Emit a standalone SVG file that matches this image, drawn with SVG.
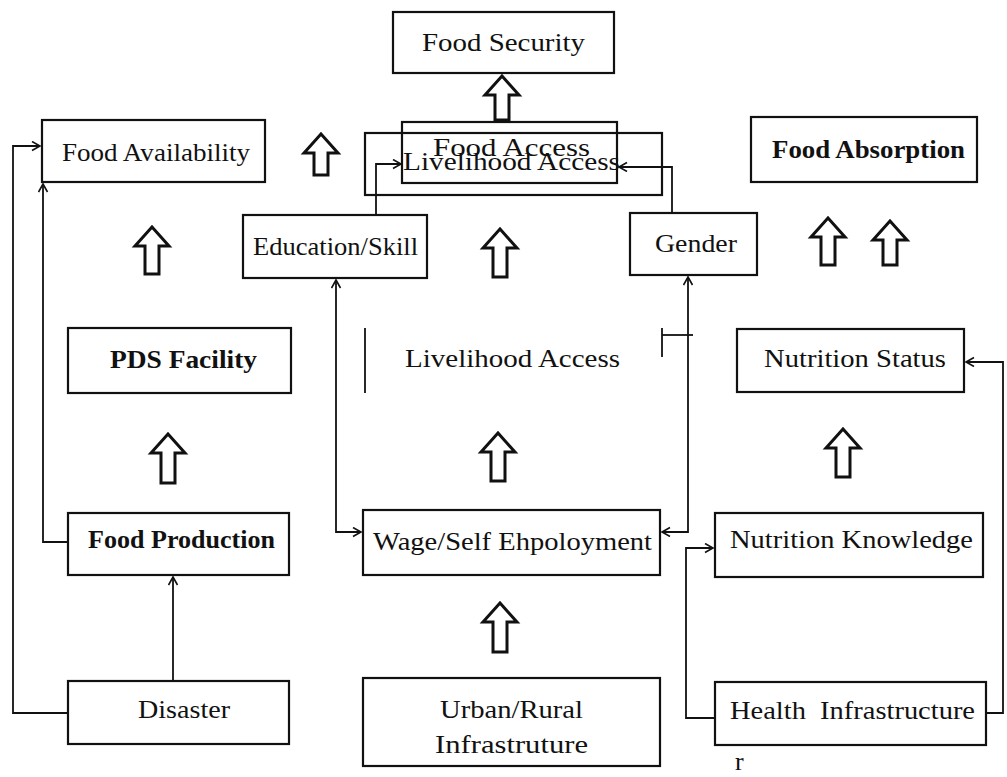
<svg xmlns="http://www.w3.org/2000/svg" width="1007" height="777" viewBox="0 0 1007 777">
<style>
.box{fill:none;stroke:#111;stroke-width:2.2}
.t{font-family:"Liberation Serif","Times New Roman",serif;font-size:26px;fill:#111;white-space:pre}
.b{font-weight:bold}
.c{fill:none;stroke:#111;stroke-width:1.8}
.ha{fill:#fff;stroke:#111;stroke-width:3;stroke-linejoin:miter}
</style>
<defs>
<marker id="ah" markerUnits="userSpaceOnUse" markerWidth="12" markerHeight="12" refX="9" refY="5" orient="auto-start-reverse">
<path d="M1,0.5 L9,5 L1,9.5" fill="none" stroke="#111" stroke-width="1.6"/>
</marker>
</defs>
<rect width="1007" height="777" fill="#fff"/>

<g id="food-security"><rect class="box" x="393" y="12" width="221" height="61"/><text class="t" x="422" y="51" textLength="163" lengthAdjust="spacingAndGlyphs">Food Security</text></g>
<g id="food-availability"><rect class="box" x="42" y="120" width="223" height="62"/><text class="t" x="62" y="161" textLength="188" lengthAdjust="spacingAndGlyphs">Food Availability</text></g>
<g id="food-access"><rect class="box" x="402" y="122" width="215" height="61"/><text class="t" x="433" y="156" textLength="157" lengthAdjust="spacingAndGlyphs">Food Access</text></g>
<g id="livelihood-access-top"><rect class="box" x="365" y="133" width="297" height="62"/><text class="t" x="403" y="170" textLength="217" lengthAdjust="spacingAndGlyphs">Livelihood Access</text></g>
<g id="food-absorption"><rect class="box" x="751" y="117" width="226" height="65"/><text class="t b" x="772" y="158" textLength="193" lengthAdjust="spacingAndGlyphs">Food Absorption</text></g>
<g id="education"><rect class="box" x="243" y="215" width="184" height="63"/><text class="t" x="253" y="255" textLength="165" lengthAdjust="spacingAndGlyphs">Education/Skill</text></g>
<g id="gender"><rect class="box" x="630" y="213" width="127" height="62"/><text class="t" x="655" y="252" textLength="82" lengthAdjust="spacingAndGlyphs">Gender</text></g>
<g id="pds"><rect class="box" x="68" y="328" width="223" height="65"/><text class="t b" x="110" y="368" textLength="147" lengthAdjust="spacingAndGlyphs">PDS Facility</text></g>
<g id="livelihood-access-mid"><line class="c" x1="365" y1="328" x2="365" y2="393"/><line class="c" x1="662" y1="328" x2="662" y2="357"/><line class="c" x1="662" y1="335" x2="693" y2="335"/><text class="t" x="405" y="367" textLength="215" lengthAdjust="spacingAndGlyphs">Livelihood Access</text></g>
<g id="nutrition-status"><rect class="box" x="737" y="329" width="227" height="63"/><text class="t" x="764" y="367" textLength="182" lengthAdjust="spacingAndGlyphs">Nutrition Status</text></g>
<g id="food-production"><rect class="box" x="68" y="513" width="221" height="62"/><text class="t b" x="88" y="548" textLength="187" lengthAdjust="spacingAndGlyphs">Food Production</text></g>
<g id="wage"><rect class="box" x="363" y="510" width="297" height="65"/><text class="t" x="373" y="550" textLength="279" lengthAdjust="spacingAndGlyphs">Wage/Self Ehpoloyment</text></g>
<g id="nutrition-knowledge"><rect class="box" x="715" y="513" width="268" height="64"/><text class="t" x="730" y="548" textLength="243" lengthAdjust="spacingAndGlyphs">Nutrition Knowledge</text></g>
<g id="disaster"><rect class="box" x="68" y="681" width="221" height="63"/><text class="t" x="138" y="718" textLength="92" lengthAdjust="spacingAndGlyphs">Disaster</text></g>
<g id="urban-rural"><rect class="box" x="363" y="678" width="297" height="88"/><text class="t" x="440" y="718" textLength="143" lengthAdjust="spacingAndGlyphs">Urban/Rural</text><text class="t" x="435" y="753" textLength="153" lengthAdjust="spacingAndGlyphs">Infrastruture</text></g>
<g id="health"><rect class="box" x="715" y="682" width="271" height="63"/><text class="t" x="730" y="719" textLength="245" lengthAdjust="spacingAndGlyphs">Health  Infrastructure</text></g>
<text class="t" x="735" y="770">r</text>

<g id="connectors">
<path class="c" d="M68,713 H13 V146 H40" marker-end="url(#ah)"/>
<path class="c" d="M68,542 H43 V184" marker-end="url(#ah)"/>
<path class="c" d="M173,681 V577" marker-end="url(#ah)"/>
<path class="c" d="M336,280 V532 H361" marker-start="url(#ah)" marker-end="url(#ah)"/>
<path class="c" d="M688,277 V532 H662" marker-start="url(#ah)" marker-end="url(#ah)"/>
<path class="c" d="M715,718 H686 V548 H713" marker-end="url(#ah)"/>
<path class="c" d="M986,713 H1003 V362 H966" marker-end="url(#ah)"/>
<path class="c" d="M376,215 V164 H401" marker-end="url(#ah)"/>
<path class="c" d="M672,213 V167 H619" marker-end="url(#ah)"/>
<polygon class="ha" points="502,76 519,95 509,95 509,120 495,120 495,95 485,95"/>
<polygon class="ha" points="321,134 338,153 328,153 328,175 314,175 314,153 304,153"/>
<polygon class="ha" points="152,227 169,246 159,246 159,274 145,274 145,246 135,246"/>
<polygon class="ha" points="500,229 517,248 507,248 507,277 493,277 493,248 483,248"/>
<polygon class="ha" points="828,218 845,237 835,237 835,265 821,265 821,237 811,237"/>
<polygon class="ha" points="890,221 907,240 897,240 897,265 883,265 883,240 873,240"/>
<polygon class="ha" points="168,434 185,453 175,453 175,483 161,483 161,453 151,453"/>
<polygon class="ha" points="498,433 515,452 505,452 505,481 491,481 491,452 481,452"/>
<polygon class="ha" points="843,429 860,448 850,448 850,477 836,477 836,448 826,448"/>
<polygon class="ha" points="500,603 517,622 507,622 507,652 493,652 493,622 483,622"/>
</g>
</svg>
